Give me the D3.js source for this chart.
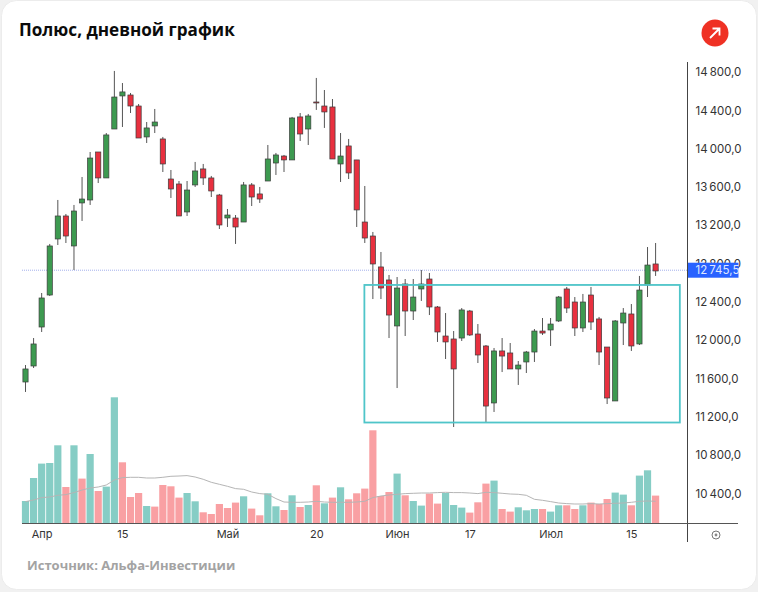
<!DOCTYPE html>
<html>
<head>
<meta charset="utf-8">
<script src="https://cdn.jsdelivr.net/npm/d3@7"></script>
<style>
html, body { margin: 0; padding: 0; background: #f1f1f1; }
svg { display: block; }
</style>
</head>
<body>
<div id="chart"></div>
<script>
var title = 'Полюс, дневной график';
var source = 'Источник: Альфа-Инвестиции';

var opens = [11564,11731,12138,12472,13057,13297,12984,13433,13464,13965,13694,14205,14550,14560,14445,14122,14237,14101,13683,13631,13339,13621,13788,13694,13516,13276,13276,13234,13621,13527,13662,13850,13923,13882,14331,14205,14487,14445,14435,13840,14028,13882,13234,13088,12765,12629,12149,12587,12305,12535,12639,12347,12044,12013,12023,12305,12065,11940,11345,11888,11867,11700,11773,11877,12096,12107,12201,12535,12399,12128,12472,12222,11929,11366,12180,12274,11961,12577,12796];
var highs = [11741,12023,12493,13005,13464,13318,13412,13704,13965,13965,14163,14811,14685,14581,14466,14278,14414,14122,13777,13662,13662,13861,13840,13715,13527,13370,13307,13652,13641,13600,14038,13955,13934,14331,14372,14362,14738,14612,14518,14163,14101,13882,13610,13130,12921,12681,12660,12639,12639,12733,12702,12357,12284,12096,12336,12316,12169,11950,11919,12023,11971,11783,11888,12117,12232,12232,12462,12556,12451,12483,12556,12243,11929,12211,12336,12378,12671,12973,13015];
var lows = [11460,11710,12086,12462,12994,13015,12733,13245,13412,13641,13694,14205,14226,14372,14111,14059,14163,13756,13485,13297,13297,13600,13621,13495,13161,13182,13005,13234,13401,13433,13662,13725,13756,13882,14080,14038,14404,14216,13892,13652,13683,13182,13015,12430,12430,12023,11501,12044,12211,12410,12263,11982,11804,11094,11992,12044,11762,11146,11251,11668,11700,11533,11658,11773,12055,11940,12190,12284,12044,12086,12107,11741,11334,11366,11950,11888,11950,12451,12671];
var closes = [11700,11961,12441,12984,13297,13088,13349,13474,13902,13694,14143,14539,14592,14445,14111,14216,14278,13840,13579,13297,13568,13767,13694,13558,13203,13307,13182,13621,13495,13474,13892,13934,13882,14320,14153,14341,14480,14383,13892,13923,13746,13360,13067,12796,12545,12263,12545,12305,12451,12587,12347,12086,11982,11700,12316,12055,11846,11313,11888,11835,11700,11741,11877,12096,12075,12169,12451,12336,12128,12399,12190,11877,11397,12201,12284,11940,12524,12785,12723];

var volumes = [223,453,597,603,780,363,780,447,693,323,367,1260,610,263,303,173,167,383,370,257,303,220,110,93,193,153,207,270,147,80,300,170,133,280,163,183,380,200,257,360,240,300,347,930,273,313,497,280,223,177,297,197,303,183,157,107,210,397,427,143,117,160,130,143,143,117,180,180,143,180,207,193,243,307,287,180,477,530,277];
// 1 = teal volume bar, 0 = red, does not always follow the candle
var volumeUp = [1,1,1,1,1,0,1,0,1,0,1,1,0,0,0,1,0,0,0,0,1,1,0,0,0,0,0,1,0,0,1,1,0,1,0,1,0,1,0,1,0,0,0,0,0,0,1,0,1,1,0,0,1,1,1,0,0,0,1,0,0,1,1,1,0,1,1,0,0,1,0,0,0,1,1,0,1,1,0];
var volumeAvg = [217,233,257,263,280,287,307,333,353,363,383,433,457,460,460,453,453,460,470,473,477,463,440,410,390,370,347,340,313,297,290,247,213,210,210,213,220,213,210,210,210,213,220,257,273,283,290,297,300,303,303,307,310,307,307,303,297,310,307,300,293,290,280,240,230,217,203,197,193,193,197,193,197,200,203,210,220,223,220];

var priceTicks = [14800,14400,14000,13600,13200,12800,12400,12000,11600,11200,10800,10400];
var dateTicks = [2,12,25,36,46,55,65,75];
var dateLabels = ['Апр','15','Май','20','Июн','17','Июл','15'];
var lastPrice = 12745.5;
var boxStart = 41.95, boxEnd = 81.0, boxTop = 12577, boxBottom = 11141;

var width = 758, height = 592;
var green = '#3d9a50', red = '#e8303f', wickColor = '#555';

var svg = d3.select('#chart').append('svg')
	.attr('width', width)
	.attr('height', height)
	.style('font-family', 'Inter, sans-serif');

svg.append('rect')
	.attr('x', 1.5).attr('y', 0.5)
	.attr('width', width - 3).attr('height', height - 3)
	.attr('rx', 15)
	.style('fill', '#fff')
	.style('stroke', '#ececec');

svg.append('text')
	.text(title)
	.attr('x', 19).attr('y', 36)
	.style('font-family', '"Open Sans", sans-serif')
	.style('font-weight', 700)
	.style('font-size', '17.1px')
	.style('fill', '#0b0b0b');

svg.append('circle').attr('cx', 715).attr('cy', 33).attr('r', 13.5).style('fill', '#ef3124');
svg.append('path')
	.attr('d', 'M710 38 L719.5 28.5 M712.5 28.5 H719.5 V35.5')
	.style('fill', 'none').style('stroke', '#fff').style('stroke-width', 1.8);

var x = d3.scaleLinear().domain([0, 78]).range([25.5, 655.6]);
var y = d3.scaleLinear().domain([14800, 10400]).range([72, 493.5]);
var yVol = d3.scaleLinear().domain([0, 1000]).range([523.3, 423.3]);

// volume
svg.selectAll('rect.volume')
	.data(volumes)
	.enter()
	.append('rect')
	.attr('class', 'volume')
	.attr('x', function(d,i) { return x(i) - 3.6; })
	.attr('y', function(d) { return yVol(d); })
	.attr('width', 7.2)
	.attr('height', function(d) { return yVol(0) - yVol(d); })
	.style('fill', function(d,i) { return volumeUp[i] ? '#86cdc5' : '#f9a0a3'; });

var avgLine = d3.line()
	.x(function(d,i) { return x(i); })
	.y(function(d) { return yVol(d); });

svg.append('path')
	.attr('d', avgLine(volumeAvg))
	.style('fill', 'none')
	.style('stroke', '#b5b5b5')
	.style('stroke-width', 1);

// last price line goes under the candles
var lastY = y(lastPrice) + 1.4;
svg.append('line')
	.attr('x1', 22).attr('x2', 687)
	.attr('y1', lastY).attr('y2', lastY)
	.style('stroke', '#a3b0ec')
	.style('stroke-width', 1)
	.style('stroke-dasharray', '1 1');

// candles
svg.selectAll('line.wick')
	.data(opens)
	.enter()
	.append('line')
	.attr('class', 'wick')
	.attr('x1', function(d,i) { return x(i); })
	.attr('x2', function(d,i) { return x(i); })
	.attr('y1', function(d,i) { return y(highs[i]); })
	.attr('y2', function(d,i) { return y(lows[i]); })
	.style('stroke', wickColor)
	.style('stroke-width', 1);

svg.selectAll('rect.candle')
	.data(opens)
	.enter()
	.append('rect')
	.attr('class', 'candle')
	.attr('x', function(d,i) { return x(i) - 2.6; })
	.attr('y', function(d,i) { return y(Math.max(d, closes[i])); })
	.attr('width', 5.2)
	.attr('height', function(d,i) { return Math.max(1, Math.abs(y(d) - y(closes[i]))); })
	.style('fill', function(d,i) { return closes[i] >= d ? green : red; })
	.style('stroke', '#3c3c3c')
	.style('stroke-width', 0.7);

// area box
svg.append('rect')
	.attr('x', x(boxStart))
	.attr('y', y(boxTop))
	.attr('width', x(boxEnd) - x(boxStart))
	.attr('height', y(boxBottom) - y(boxTop))
	.style('fill', 'none')
	.style('stroke', '#4fc5c9')
	.style('stroke-width', 1.8);

// axes
var ruFormat = d3.formatLocale({ decimal: ',', thousands: '\u2009', grouping: [3], currency: ['', ''] }).format(',.1f');

var priceAxis = d3.axisRight(y)
	.tickValues(priceTicks)
	.tickSize(0)
	.tickPadding(8)
	.tickFormat(ruFormat);

var gy = svg.append('g').attr('transform', 'translate(687.5,0)').call(priceAxis);
gy.select('.domain').remove();
gy.selectAll('text').style('font-family', 'Inter, sans-serif').style('font-size', '11.5px').style('fill', '#333');

svg.append('line')
	.attr('x1', 687.5).attr('x2', 687.5)
	.attr('y1', 62).attr('y2', 542)
	.style('stroke', '#444');

var dateAxis = d3.axisBottom(x)
	.tickValues(dateTicks)
	.tickSize(0)
	.tickPadding(7)
	.tickFormat(function(d,i) { return dateLabels[i]; });

var gx = svg.append('g').attr('transform', 'translate(0,523.5)').call(dateAxis);
gx.select('.domain').remove();
gx.selectAll('text').style('font-family', 'Inter, sans-serif').style('font-size', '11px').style('fill', '#333');

svg.append('line')
	.attr('x1', 22).attr('x2', 738)
	.attr('y1', 523.5).attr('y2', 523.5)
	.style('stroke', '#555');

// last price label
svg.append('rect')
	.attr('x', 688).attr('y', lastY - 7.5)
	.attr('width', 50.5).attr('height', 15)
	.style('fill', '#2962ff');
svg.append('text')
	.text(ruFormat(lastPrice))
	.attr('x', 695.5).attr('y', lastY + 4.2)
	.style('font-size', '11.5px')
	.style('fill', '#dfe7ff');

// settings icon
svg.append('circle').attr('cx', 716).attr('cy', 535).attr('r', 4).style('fill', 'none').style('stroke', '#777').style('stroke-width', 1);
svg.append('circle').attr('cx', 716).attr('cy', 535).attr('r', 1.4).style('fill', '#888');

svg.append('text')
	.text(source)
	.attr('x', 27).attr('y', 570)
	.style('font-family', '"Open Sans", sans-serif')
	.style('font-weight', 700)
	.style('font-size', '13px')
	.style('fill', '#a3a3a3');
</script>
</body>
</html>
